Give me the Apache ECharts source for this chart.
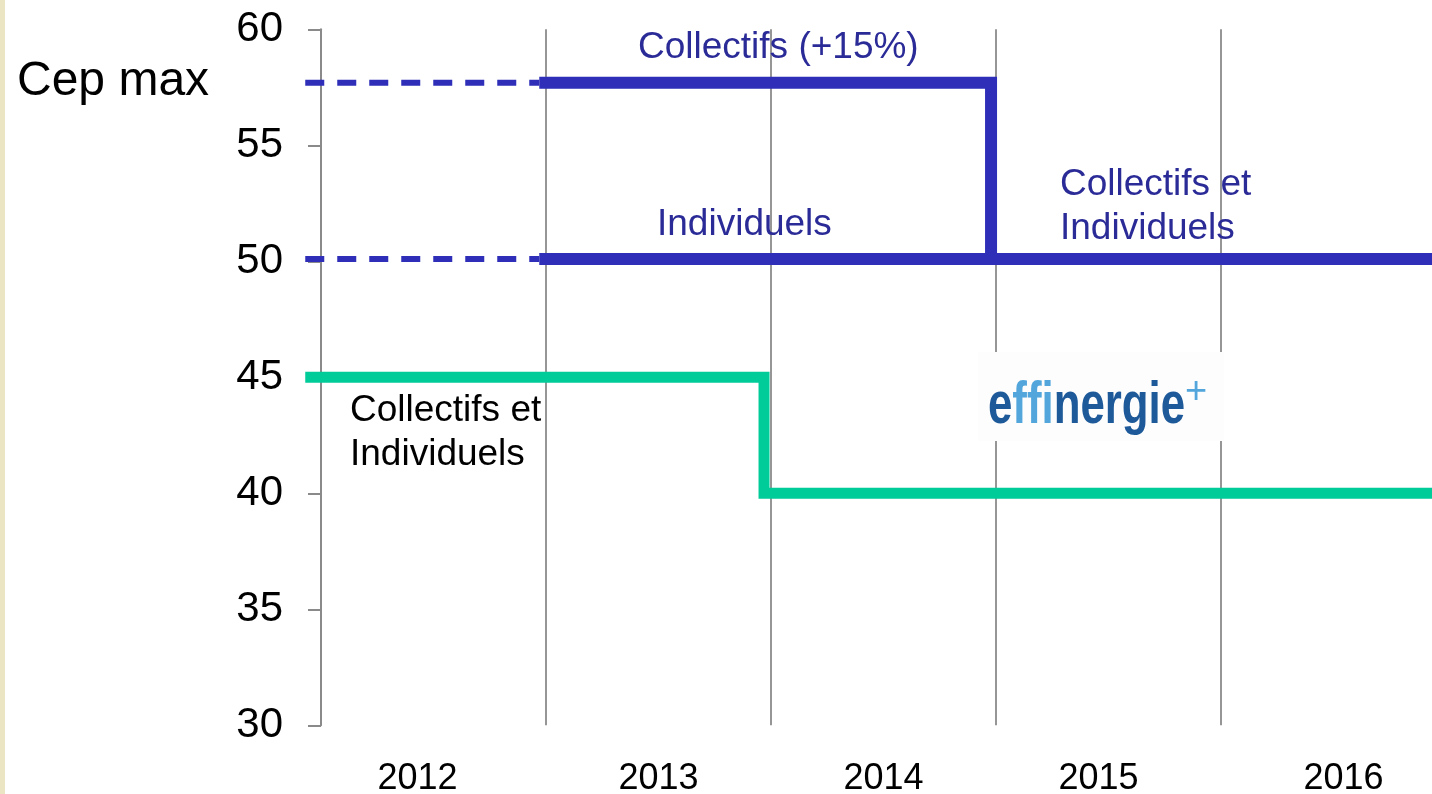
<!DOCTYPE html>
<html>
<head>
<meta charset="utf-8">
<script src="https://cdn.jsdelivr.net/npm/echarts@6/dist/echarts.min.js"></script>
<style>
html,body{margin:0;padding:0;background:#fff;}
#chart{width:1432px;height:794px;}
</style>
</head>
<body>
<div id="chart"></div>
<script>
// ---- data ----
const years = ['2012', '2013', '2014', '2015', '2016'];
const yMin = 30, yMax = 60, yStep = 5;
// x in "year slots" (0 = start of 2012 slot, 5 = end of 2016 slot)
const xStart = -0.07;
const collectifsAvant = [[xStart, 57.7], [0.97, 57.7]];          // dashed
const individuelsAvant = [[xStart, 50.1], [0.97, 50.1]];         // dashed
const collectifs = [[0.97, 57.7], [2.978, 57.7], [2.978, 50.1]]; // solid
const individuels = [[0.97, 50.1], [5, 50.1]];                   // solid
const effinergie = [[xStart, 45], [1.969, 45], [1.969, 40], [5, 40]];

const BLUE = '#2E2EB9', BLUE_TXT = '#2B2B98', GREEN = '#00CC99';
const FONT = 'Liberation Sans, Arial, sans-serif';

const chart = echarts.init(document.getElementById('chart'));

const SLOT = 225, AX_LEFT = 321, TOP = 29.3, H = 696;

const labelShift = [-16, 0, 0, -10, 10];
const rich = {};
labelShift.forEach((d, i) => {
  rich['y' + i] = {
    fontSize: 36, color: '#000', fontFamily: FONT,
    padding: [0, d < 0 ? -2 * d : 0, 0, d > 0 ? 2 * d : 0]
  };
});

function lineSeries(name, data, color, width, dashed) {
  return {
    name, type: 'line', data, xAxisIndex: 2, yAxisIndex: 1,
    symbol: 'none', clip: false, animation: false,
    lineStyle: { color, width, type: dashed ? [19, 13] : 'solid', cap: 'butt', join: 'miter' },
    z: dashed ? 3 : 4
  };
}

const option = {
  backgroundColor: '#fff',
  animation: false,
  textStyle: { fontFamily: FONT },
  grid: [
    { left: AX_LEFT, top: TOP, width: SLOT * 5, height: H, outerBoundsMode: 'none', containLabel: false },
    { left: AX_LEFT + xStart * SLOT, top: TOP, width: SLOT * (5 - xStart), height: H, outerBoundsMode: 'none', containLabel: false }
  ],
  xAxis: [
    {
      gridIndex: 0, type: 'value', min: 0, max: 5, interval: 1,
      axisLine: { show: false }, axisTick: { show: false }, axisLabel: { show: false },
      splitLine: { show: true, lineStyle: { color: '#969696', width: 2 } }
    },
    {
      gridIndex: 0, type: 'category', data: years, position: 'bottom', boundaryGap: true,
      axisLine: { show: false }, axisTick: { show: false }, splitLine: { show: false },
      axisLabel: { margin: 36, interval: 0, formatter: (v, i) => '{y' + i + '|' + v + '}', rich }
    },
    {
      gridIndex: 1, type: 'value', min: xStart, max: 5, show: false
    }
  ],
  yAxis: [
    {
      gridIndex: 0, type: 'value', min: yMin, max: yMax, interval: yStep,
      axisLine: { show: true, lineStyle: { color: '#8a8a8a', width: 2 } },
      axisTick: { show: true, inside: false, length: 13, lineStyle: { color: '#8a8a8a', width: 2 } },
      splitLine: { show: false },
      axisLabel: { margin: 38, fontSize: 42, color: '#000', fontFamily: FONT }
    },
    { gridIndex: 1, type: 'value', min: yMin, max: yMax, show: false }
  ],
  series: [
    lineSeries('Collectifs avant', collectifsAvant, BLUE, 6, true),
    lineSeries('Individuels avant', individuelsAvant, BLUE, 6, true),
    lineSeries('Collectifs', collectifs, BLUE, 12, false),
    lineSeries('Individuels', individuels, BLUE, 12, false),
    lineSeries('Effinergie+', effinergie, GREEN, 11, false)
  ],
  graphic: [
    { type: 'rect', left: 0, top: 0, shape: { width: 5, height: 794 }, style: { fill: '#ECE5C3' }, z: 10 },
    { type: 'rect', x: 978, y: 352, shape: { width: 246, height: 89 }, style: { fill: '#fdfdfd' }, z: 5 },
    { type: 'text', x: 988, y: 406, scaleX: 0.73, z: 6, style: {
        text: '{d|e}{l|ffi}{d|nergie}', verticalAlign: 'middle', align: 'left',
        rich: {
          d: { fontSize: 60, fontWeight: 'bold', fill: '#1E5A9A', fontFamily: FONT },
          l: { fontSize: 60, fontWeight: 'bold', fill: '#52A6DC', fontFamily: FONT }
        }
    } },
    { type: 'text', x: 1185, y: 393, z: 6, style: { text: '+', fontSize: 38, fill: '#52A6DC', verticalAlign: 'middle', align: 'left', fontFamily: FONT } },
    { type: 'text', x: 17, y: 82, z: 6, style: { text: 'Cep max', fontSize: 48, fill: '#000', verticalAlign: 'middle', fontFamily: FONT } },
    { type: 'text', x: 638, y: 48, z: 6, style: { text: 'Collectifs (+15%)', fontSize: 37, fill: BLUE_TXT, verticalAlign: 'middle', fontFamily: FONT } },
    { type: 'text', x: 657, y: 225, z: 6, style: { text: 'Individuels', fontSize: 37, fill: BLUE_TXT, verticalAlign: 'middle', fontFamily: FONT } },
    { type: 'text', x: 1060, y: 207, z: 6, style: { text: 'Collectifs et\nIndividuels', fontSize: 37, lineHeight: 44, fill: BLUE_TXT, verticalAlign: 'middle', fontFamily: FONT } },
    { type: 'text', x: 350, y: 433, z: 6, style: { text: 'Collectifs et\nIndividuels', fontSize: 37, lineHeight: 44, fill: '#000', verticalAlign: 'middle', fontFamily: FONT } }
  ]
};
chart.setOption(option);
</script>
</body>
</html>
